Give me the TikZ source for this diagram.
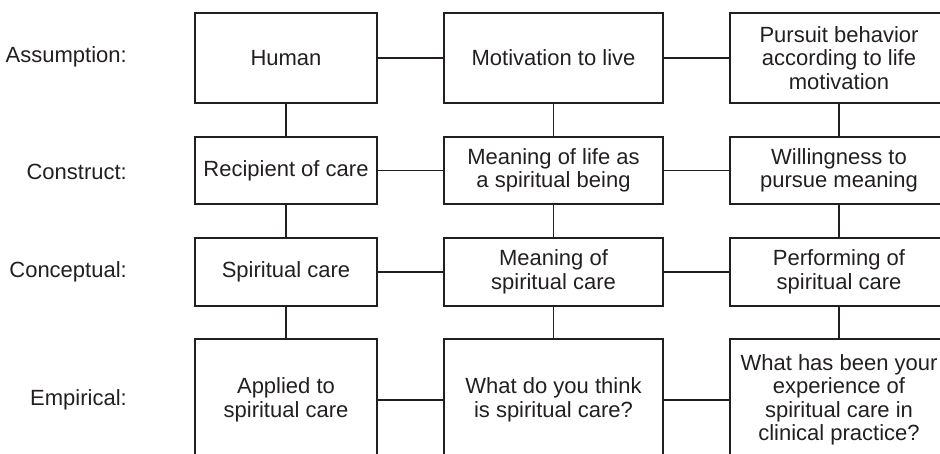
\documentclass[tikz,border=0pt]{standalone}
\usepackage{fontspec}
\setmainfont{Liberation Sans}
\definecolor{ink}{HTML}{231F20}
\begin{document}
\begin{tikzpicture}[x=1pt,y=-1pt,
  box/.style={draw=ink, line width=1.3pt, inner sep=0pt, align=center,
    text=ink, font=\fontsize{22}{23.5}\selectfont},
  lvl/.style={anchor=east, inner sep=0pt, text=ink, font=\fontsize{22}{23.5}\selectfont},
  link/.style={draw=ink, line width=1.3pt}]
\useasboundingbox (0,0) rectangle (940,454);
\clip (0,0) rectangle (940,454);

% column widths and row heights
\tikzset{
  c1/.style={minimum width=182pt},
  c2/.style={minimum width=219pt},
  c3/.style={minimum width=218pt},
  r1/.style={minimum height=90pt},
  r2/.style={minimum height=67pt},
  r3/.style={minimum height=68pt},
  r4/.style={minimum height=122pt}}

% level labels
\node[lvl] (la) at (127,57)  {Assumption:};
\node[lvl] (lb) at (127,172) {Construct:};
\node[lvl] (lc) at (127,272) {Conceptual:};
\node[lvl] (ld) at (127,400) {Empirical:};

% assumption row
\node[box,c1,r1] (a1) at (286,58)   {Human};
\node[box,c2,r1] (a2) at (553.5,58) {Motivation to live};
\node[box,c3,r1] (a3) at (839,58)   {Pursuit behavior\\according to life\\motivation};

% construct row
\node[box,c1,r2] (b1) at (286,170.5)   {Recipient of care};
\node[box,c2,r2] (b2) at (553.5,170.5) {Meaning of life as\\a spiritual being};
\node[box,c3,r2] (b3) at (839,170.5)   {Willingness to\\pursue meaning};

% conceptual row
\node[box,c1,r3] (c1n) at (286,272)   {Spiritual care};
\node[box,c2,r3] (c2n) at (553.5,272) {Meaning of\\spiritual care};
\node[box,c3,r3] (c3n) at (839,272)   {Performing of\\spiritual care};

% empirical row
\node[box,c1,r4] (d1) at (286,400)   {Applied to\\spiritual care};
\node[box,c2,r4] (d2) at (553.5,400) {What do you think\\is spiritual care?};
\node[box,c3,r4] (d3) at (839,400)   {What has been your\\experience of\\spiritual care in\\clinical practice?};

% horizontal links
\draw[link] (a1) -- (a2);  \draw[link] (a2) -- (a3);
\draw[link] (b1) -- (b2);  \draw[link] (b2) -- (b3);
\draw[link] (c1n) -- (c2n); \draw[link] (c2n) -- (c3n);
\draw[link] (d1) -- (d2);  \draw[link] (d2) -- (d3);

% vertical links
\draw[link] (a1) -- (b1);  \draw[link] (b1) -- (c1n);  \draw[link] (c1n) -- (d1);
\draw[link] (a2) -- (b2);  \draw[link] (b2) -- (c2n);  \draw[link] (c2n) -- (d2);
\draw[link] (a3) -- (b3);  \draw[link] (b3) -- (c3n);  \draw[link] (c3n) -- (d3);
\end{tikzpicture}
\end{document}
